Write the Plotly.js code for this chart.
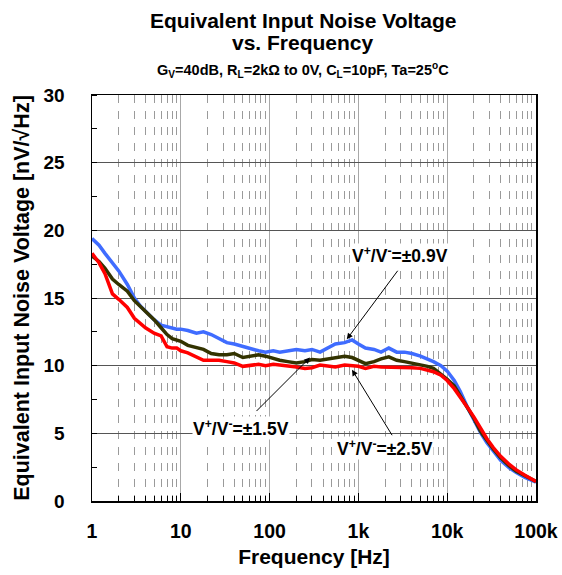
<!DOCTYPE html>
<html>
<head>
<meta charset="utf-8">
<script src="https://cdn.plot.ly/plotly-3.0.1.min.js"></script>
<style>html,body{margin:0;padding:0;background:#fff;}#chart{width:562px;height:575px;}</style>
</head>
<body>
<div id="chart"></div>
<script>
// Frequency [Hz]
var freq = [1, 1.2, 1.4, 1.7, 2, 2.5, 3, 3.5, 4, 5, 6, 7, 8, 9, 10, 12, 15, 18, 22, 27, 33, 40, 50, 60, 75, 90,
  110, 130, 160, 200, 250, 300, 370, 450, 550, 700, 850, 1000, 1200, 1500, 1800, 2200, 2700, 3300, 4000, 5000,
  6000, 7000, 8500, 10000, 12000, 14000, 17000, 20000, 24000, 28000, 33000, 40000, 50000, 60000, 75000, 90000, 100000];

// V+/V- = ±0.9V (blue)
var noise09 = [19.4, 18.9, 18.3, 17.6, 17.0, 16.0, 15.0, 14.4, 14.0, 13.4, 13.0, 12.9, 12.8, 12.7, 12.7, 12.6, 12.4, 12.5, 12.3, 12.0, 11.7, 11.6, 11.4, 11.3, 11.1, 11.0,
  11.1, 11.0, 11.1, 11.2, 11.1, 11.2, 11.0, 11.3, 11.6, 11.7, 11.9, 11.6, 11.3, 11.2, 11.0, 11.3, 11.0, 11.0, 10.9, 10.7,
  10.5, 10.3, 10.0, 9.6, 8.9, 8.1, 6.9, 6.0, 5.0, 4.3, 3.7, 3.0, 2.45, 2.1, 1.75, 1.5, 1.4];

// V+/V- = ±1.5V (dark olive)
var noise15 = [18.1, 17.7, 17.2, 16.4, 16.0, 15.5, 14.8, 14.4, 14.0, 13.4, 12.8, 12.3, 12.0, 11.9, 11.8, 11.5, 11.3, 11.2, 10.9, 10.8, 10.8, 10.9, 10.6, 10.7, 10.8, 10.7,
  10.5, 10.4, 10.3, 10.2, 10.3, 10.45, 10.4, 10.5, 10.6, 10.7, 10.6, 10.4, 10.15, 10.3, 10.5, 10.65, 10.4, 10.3, 10.2, 10.1,
  9.95, 9.8, 9.4, 9.0, 8.5, 7.8, 6.9, 6.1, 5.1, 4.45, 3.85, 3.2, 2.6, 2.2, 1.85, 1.55, 1.45];

// V+/V- = ±2.5V (red)
var noise25 = [18.3, 17.6, 16.8, 15.3, 14.9, 14.3, 13.5, 13.1, 12.8, 12.4, 12.2, 11.4, 11.3, 11.3, 11.1, 10.95, 10.65, 10.4, 10.4, 10.4, 10.3, 10.2, 9.95, 10.0, 10.1, 10.0,
  10.1, 10.05, 10.0, 9.9, 9.8, 9.85, 10.05, 10.0, 9.9, 10.05, 10.0, 9.95, 9.8, 9.95, 9.9, 9.9, 9.9, 9.9, 9.85, 9.8,
  9.7, 9.55, 9.3, 8.9, 8.3, 7.7, 6.9, 6.2, 5.3, 4.6, 3.95, 3.3, 2.7, 2.3, 1.9, 1.6, 1.45];

var xTickVals = [1, 10, 100, 1000, 10000, 100000];
var xTickText = ['1', '10', '100', '1k', '10k', '100k'];
var yTickVals = [0, 5, 10, 15, 20, 25, 30];

var seriesNames = ['V+/V-=±0.9V', 'V+/V-=±1.5V', 'V+/V-=±2.5V'];
var seriesLabels = ['V<sup>+</sup>/V<sup>-</sup>=±0.9V', 'V<sup>+</sup>/V<sup>-</sup>=±1.5V', 'V<sup>+</sup>/V<sup>-</sup>=±2.5V'];
var seriesColors = ['#3f6cff', '#333300', '#ff0000'];

var FONT = 'Arial, "Liberation Sans", sans-serif';

var traces = [noise09, noise15, noise25].map(function (v, i) {
  return {
    x: freq, y: v, type: 'scatter', mode: 'lines', name: seriesNames[i],
    line: {color: seriesColors[i], width: 3.5}, hoverinfo: 'skip'
  };
});

function lg(f) { return Math.log10(f); }
// pixel helpers relative to plot area (l=92, t=95, w=444, h=406)
function px(x) { return (x - 92) / 444; }
function py(y) { return (501 - y) / 406; }

var labelFont = {family: FONT, size: 17.5, color: '#000', weight: 'bold'};
var titleFont = {family: FONT, size: 21, color: '#000', weight: 'bold'};
var arrowStyle = {arrowhead: 2, arrowsize: 1.2, arrowwidth: 1, arrowcolor: '#000', standoff: 0, startstandoff: 0};

var annotations = [
  // title lines
  {xref: 'paper', yref: 'paper', x: px(303), y: py(20), xanchor: 'center', yanchor: 'middle',
   text: 'Equivalent Input Noise Voltage', showarrow: false, font: titleFont},
  {xref: 'paper', yref: 'paper', x: px(303), y: py(43), xanchor: 'center', yanchor: 'middle',
   text: 'vs. Frequency', showarrow: false, font: titleFont},
  // subtitle
  {xref: 'paper', yref: 'paper', x: px(303), y: py(70), xanchor: 'center', yanchor: 'middle',
   text: 'G<sub>V</sub>=40dB, R<sub>L</sub>=2kΩ to 0V, C<sub>L</sub>=10pF, Ta=25<sup>o</sup>C',
   showarrow: false, font: {family: FONT, size: 14.5, color: '#000', weight: 'bold'}},
  // arrows
  Object.assign({x: lg(740), y: 11.95, xref: 'x', yref: 'y', text: '', showarrow: true, ax: 52, ay: -70}, arrowStyle),
  Object.assign({x: lg(285), y: 10.6, xref: 'x', yref: 'y', text: '', showarrow: true, ax: -55, ay: 55}, arrowStyle),
  Object.assign({x: lg(847), y: 9.7, xref: 'x', yref: 'y', text: '', showarrow: true, ax: 41, ay: 67}, arrowStyle),
  // labels
  {xref: 'paper', yref: 'paper', x: px(400), y: py(255), xanchor: 'center', yanchor: 'middle',
   text: seriesLabels[0], showarrow: false, bgcolor: '#fff', font: labelFont, borderpad: 0},
  {xref: 'paper', yref: 'paper', x: px(241), y: py(428), xanchor: 'center', yanchor: 'middle',
   text: seriesLabels[1], showarrow: false, bgcolor: '#fff', font: labelFont, borderpad: 0},
  {xref: 'paper', yref: 'paper', x: px(385), y: py(448), xanchor: 'center', yanchor: 'middle',
   text: seriesLabels[2], showarrow: false, bgcolor: '#fff', font: labelFont, borderpad: 0}
];

var layout = {
  width: 562, height: 575,
  margin: {l: 92, r: 26, t: 95, b: 74, pad: 0},
  paper_bgcolor: '#fff', plot_bgcolor: '#fff',
  showlegend: false,
  font: {family: FONT, color: '#000'},
  xaxis: {
    type: 'log', range: [0, 5],
    tickvals: xTickVals, ticktext: xTickText,
    tickfont: {family: FONT, size: 19.5, color: '#000', weight: 'bold'},
    ticks: 'inside', ticklen: 8, tickcolor: '#000', tickwidth: 1,
    ticklabelstandoff: 12,
    showgrid: true, gridcolor: '#a8a8a8', gridwidth: 1,
    minor: {dtick: 'D1', showgrid: true, gridcolor: '#9a9a9a', griddash: '8px,8px', gridwidth: 1,
            ticks: 'inside', ticklen: 5, tickcolor: '#000'},
    showline: true, linecolor: '#000', linewidth: 1.5, mirror: true,
    zeroline: false,
    title: {text: 'Frequency [Hz]', font: {family: FONT, size: 21, color: '#000', weight: 'bold'}, standoff: 8}
  },
  yaxis: {
    range: [0, 30],
    tickvals: yTickVals,
    tickfont: {family: FONT, size: 19, color: '#000', weight: 'bold'},
    ticks: '', ticklabelstandoff: 22,
    showgrid: true, gridcolor: '#555555', gridwidth: 1,
    minor: {dtick: 2.5, ticks: 'inside', ticklen: 5, tickcolor: '#000', showgrid: false},
    showline: true, linecolor: '#000', linewidth: 1.5, mirror: true,
    zeroline: false,
    title: {text: 'Equivalent Input Noise Voltage [nV/√Hz]', font: {family: FONT, size: 21.5, color: '#000', weight: 'bold'}, standoff: 8}
  },
  annotations: annotations
};

Plotly.newPlot('chart', traces, layout, {staticPlot: true, displayModeBar: false});
</script>
</body>
</html>
